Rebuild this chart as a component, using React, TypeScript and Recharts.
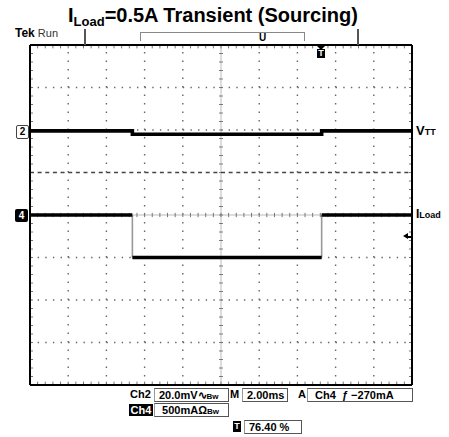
import React from 'react';
import { LineChart, Line, XAxis, YAxis, ReferenceLine } from 'recharts';

// time axis: 2.00 ms/div, 10 divisions
// vertical values are in screen divisions (0 = bottom, 8 = top)
const timeMs = [0, 5.36, 5.36, 5.36, 15.27, 15.27, 15.27, 20];
const vttDiv = [5.98, 5.98, 5.9, 5.9, 5.9, 5.98, 5.98, 5.98];
const iLoadDiv = [4, 4, null, 3, 3, null, 4, 4];
const iEdgeDiv = [null, 4, 3, null, 3, 4, null, null];

const xGrid = [2, 4, 6, 8, 12, 14, 16, 18];
const yGrid = [1, 2, 3, 6, 7];
const xCenter = 10;
const yCenter = 4;
const cursorLevel = 5;

const xMinor = Array.from({ length: 51 }, (_, i) => +(i * 0.4).toFixed(2));
const yMinor = Array.from({ length: 41 }, (_, i) => +(i * 0.2).toFixed(2));

const rows = timeMs.map((t, i) => ({ t, vtt: vttDiv[i], iload: iLoadDiv[i], edge: iEdgeDiv[i] }));

const font = '"Liberation Sans", Arial, sans-serif';

const box = (left: number, top: number, width: number, text: React.ReactNode) => (
  <div style={{ position: 'absolute', left, top, width, height: 14, border: '1px solid #555', borderLeftColor: '#999', fontSize: 11, fontWeight: 'bold', lineHeight: '12px', paddingLeft: 4, boxSizing: 'border-box', whiteSpace: 'nowrap', overflow: 'hidden' }}>{text}</div>
);

const lbl = (left: number, top: number, text: React.ReactNode, extra: React.CSSProperties = {}) => (
  <div style={{ position: 'absolute', left, top, fontSize: 11, fontWeight: 'bold', lineHeight: '13px', whiteSpace: 'nowrap', ...extra }}>{text}</div>
);

const seg = (key: string, x1: number, y1: number, x2: number, y2: number, stroke = '#777') => (
  <ReferenceLine key={key} xAxisId="b" yAxisId="l" segment={[{ x: x1, y: y1 }, { x: x2, y: y2 }]} stroke={stroke} strokeWidth={1} />
);

export default function App() {
  return (
    <div style={{ position: 'absolute', left: 0, top: 0, width: 449, height: 437, background: '#fff', fontFamily: font, color: '#000' }}>
      <div style={{ position: 'absolute', left: 0, top: 0 }}>
        <LineChart width={449} height={437} data={rows} margin={{ top: 45, left: 30, right: 37, bottom: 52 }}>
          <XAxis xAxisId="b" dataKey="t" type="number" domain={[0, 20]} ticks={xMinor} orientation="bottom" mirror tick={false} tickLine={false} axisLine={{ stroke: '#000', strokeWidth: 2 }} />
          <XAxis xAxisId="t" dataKey="t" type="number" domain={[0, 20]} ticks={xMinor} orientation="top" mirror tick={false} tickLine={false} axisLine={{ stroke: '#000', strokeWidth: 2 }} />
          <YAxis yAxisId="l" type="number" domain={[0, 8]} ticks={yMinor} orientation="left" mirror tick={false} tickLine={false} axisLine={{ stroke: '#000', strokeWidth: 2 }} />
          <YAxis yAxisId="r" type="number" domain={[0, 8]} ticks={yMinor} orientation="right" mirror tick={false} tickLine={false} axisLine={{ stroke: '#000', strokeWidth: 2 }} />

          {xGrid.map(v => (
            <ReferenceLine key={'gx' + v} xAxisId="b" yAxisId="l" x={v} stroke="#666" strokeWidth={1.4} strokeDasharray="1.4 7.1" />
          ))}
          {yGrid.map(v => (
            <ReferenceLine key={'gy' + v} xAxisId="b" yAxisId="l" y={v} stroke="#666" strokeWidth={1.4} strokeDasharray="1.4 6.24" />
          ))}
          <ReferenceLine xAxisId="b" yAxisId="l" x={xCenter} stroke="#bbb" strokeWidth={1} />
          <ReferenceLine xAxisId="b" yAxisId="l" y={yCenter} stroke="#bbb" strokeWidth={1} />
          {xMinor.map(v => seg('cx' + v, v, yCenter - 0.05, v, yCenter + 0.05))}
          {yMinor.map(v => seg('cy' + v, xCenter - 0.1, v, xCenter + 0.1, v))}
          {xMinor.map(v => seg('tb' + v, v, 0, v, 0.08))}
          {xMinor.map(v => seg('tt' + v, v, 8, v, 7.92))}
          {yMinor.map(v => seg('tl' + v, 0, v, 0.16, v))}
          {yMinor.map(v => seg('tr' + v, 20, v, 19.84, v))}
          <ReferenceLine xAxisId="b" yAxisId="l" y={cursorLevel} stroke="#444" strokeWidth={1.4} strokeDasharray="4 3.64" />

          <Line xAxisId="b" yAxisId="l" dataKey="edge" stroke="#999" strokeWidth={1.6} dot={false} isAnimationActive={false} connectNulls={false} />
          <Line xAxisId="b" yAxisId="l" dataKey="vtt" stroke="#000" strokeWidth={3.6} dot={false} isAnimationActive={false} />
          <Line xAxisId="b" yAxisId="l" dataKey="iload" stroke="#000" strokeWidth={3.6} dot={false} isAnimationActive={false} connectNulls={false} />
        </LineChart>
      </div>

      {/* title */}
      <div style={{ position: 'absolute', left: 68, top: 3, fontSize: 20, fontWeight: 'bold', whiteSpace: 'nowrap', lineHeight: '24px' }}>
        I<sub style={{ fontSize: 13, verticalAlign: -4 }}>Load</sub>=0.5A Transient (Sourcing)
      </div>

      {/* top status line */}
      {lbl(15, 27, <span><span style={{ fontSize: 12 }}>Tek</span> <span style={{ fontWeight: 'normal', color: '#333' }}>Run</span></span>)}
      <div style={{ position: 'absolute', left: 84, top: 29, width: 1.5, height: 16, background: '#555' }} />
      <div style={{ position: 'absolute', left: 357, top: 29, width: 1.5, height: 16, background: '#555' }} />
      <div style={{ position: 'absolute', left: 140, top: 32, width: 163, height: 8, border: '1px solid #888', borderBottom: 'none' }} />
      {lbl(259, 31, 'U', { fontSize: 10 })}
      <div style={{ position: 'absolute', left: 316, top: 45, width: 0, height: 0, borderLeft: '5px solid transparent', borderRight: '5px solid transparent', borderTop: '5px solid #000' }} />
      <div style={{ position: 'absolute', left: 317, top: 49, width: 8, height: 9, background: '#000', color: '#fff', fontSize: 9, fontWeight: 'bold', lineHeight: '9px', textAlign: 'center' }}>T</div>

      {/* channel markers */}
      <div style={{ position: 'absolute', left: 16, top: 125, width: 11, height: 12, border: '1px solid #444', borderRadius: 2, fontSize: 10, fontWeight: 'bold', lineHeight: '12px', textAlign: 'center', background: '#fff' }}>2</div>
      <div style={{ position: 'absolute', left: 15, top: 209, width: 13, height: 13, background: '#000', color: '#fff', borderRadius: 2, fontSize: 10, fontWeight: 'bold', lineHeight: '13px', textAlign: 'center' }}>4</div>
      {lbl(416, 124, <span>V<span style={{ fontSize: 9 }}>TT</span></span>, { fontSize: 13 })}
      {lbl(416, 208, <span>I<span style={{ fontSize: 9 }}>Load</span></span>, { fontSize: 12 })}
      {/* trigger level arrow */}
      <div style={{ position: 'absolute', left: 403, top: 233, width: 0, height: 0, borderTop: '3.5px solid transparent', borderBottom: '3.5px solid transparent', borderRight: '5px solid #000' }} />
      <div style={{ position: 'absolute', left: 407, top: 235.5, width: 4, height: 2, background: '#000' }} />

      {/* readouts */}
      {lbl(130, 388, 'Ch2')}
      {box(154, 388, 75, <span>20.0mV∿<span style={{ fontSize: 8 }}>Bw</span></span>)}
      {lbl(230, 388, 'M')}
      {box(242, 388, 46, '2.00ms')}
      {lbl(298, 388, 'A')}
      {box(307, 388, 106, <span>&nbsp;Ch4 &nbsp;ƒ −270mA</span>)}
      <div style={{ position: 'absolute', left: 129, top: 404, width: 24, height: 12, background: '#000', color: '#fff', fontSize: 11, fontWeight: 'bold', lineHeight: '12px', textAlign: 'center' }}>Ch4</div>
      {box(154, 403, 75, <span>&nbsp;500mAΩ<span style={{ fontSize: 8 }}>Bw</span></span>)}
      <div style={{ position: 'absolute', left: 233, top: 421, width: 8, height: 11, background: '#000', color: '#fff', fontSize: 9, fontWeight: 'bold', lineHeight: '11px', textAlign: 'center' }}>T</div>
      {box(244, 420, 58, '76.40 %')}
    </div>
  );
}
